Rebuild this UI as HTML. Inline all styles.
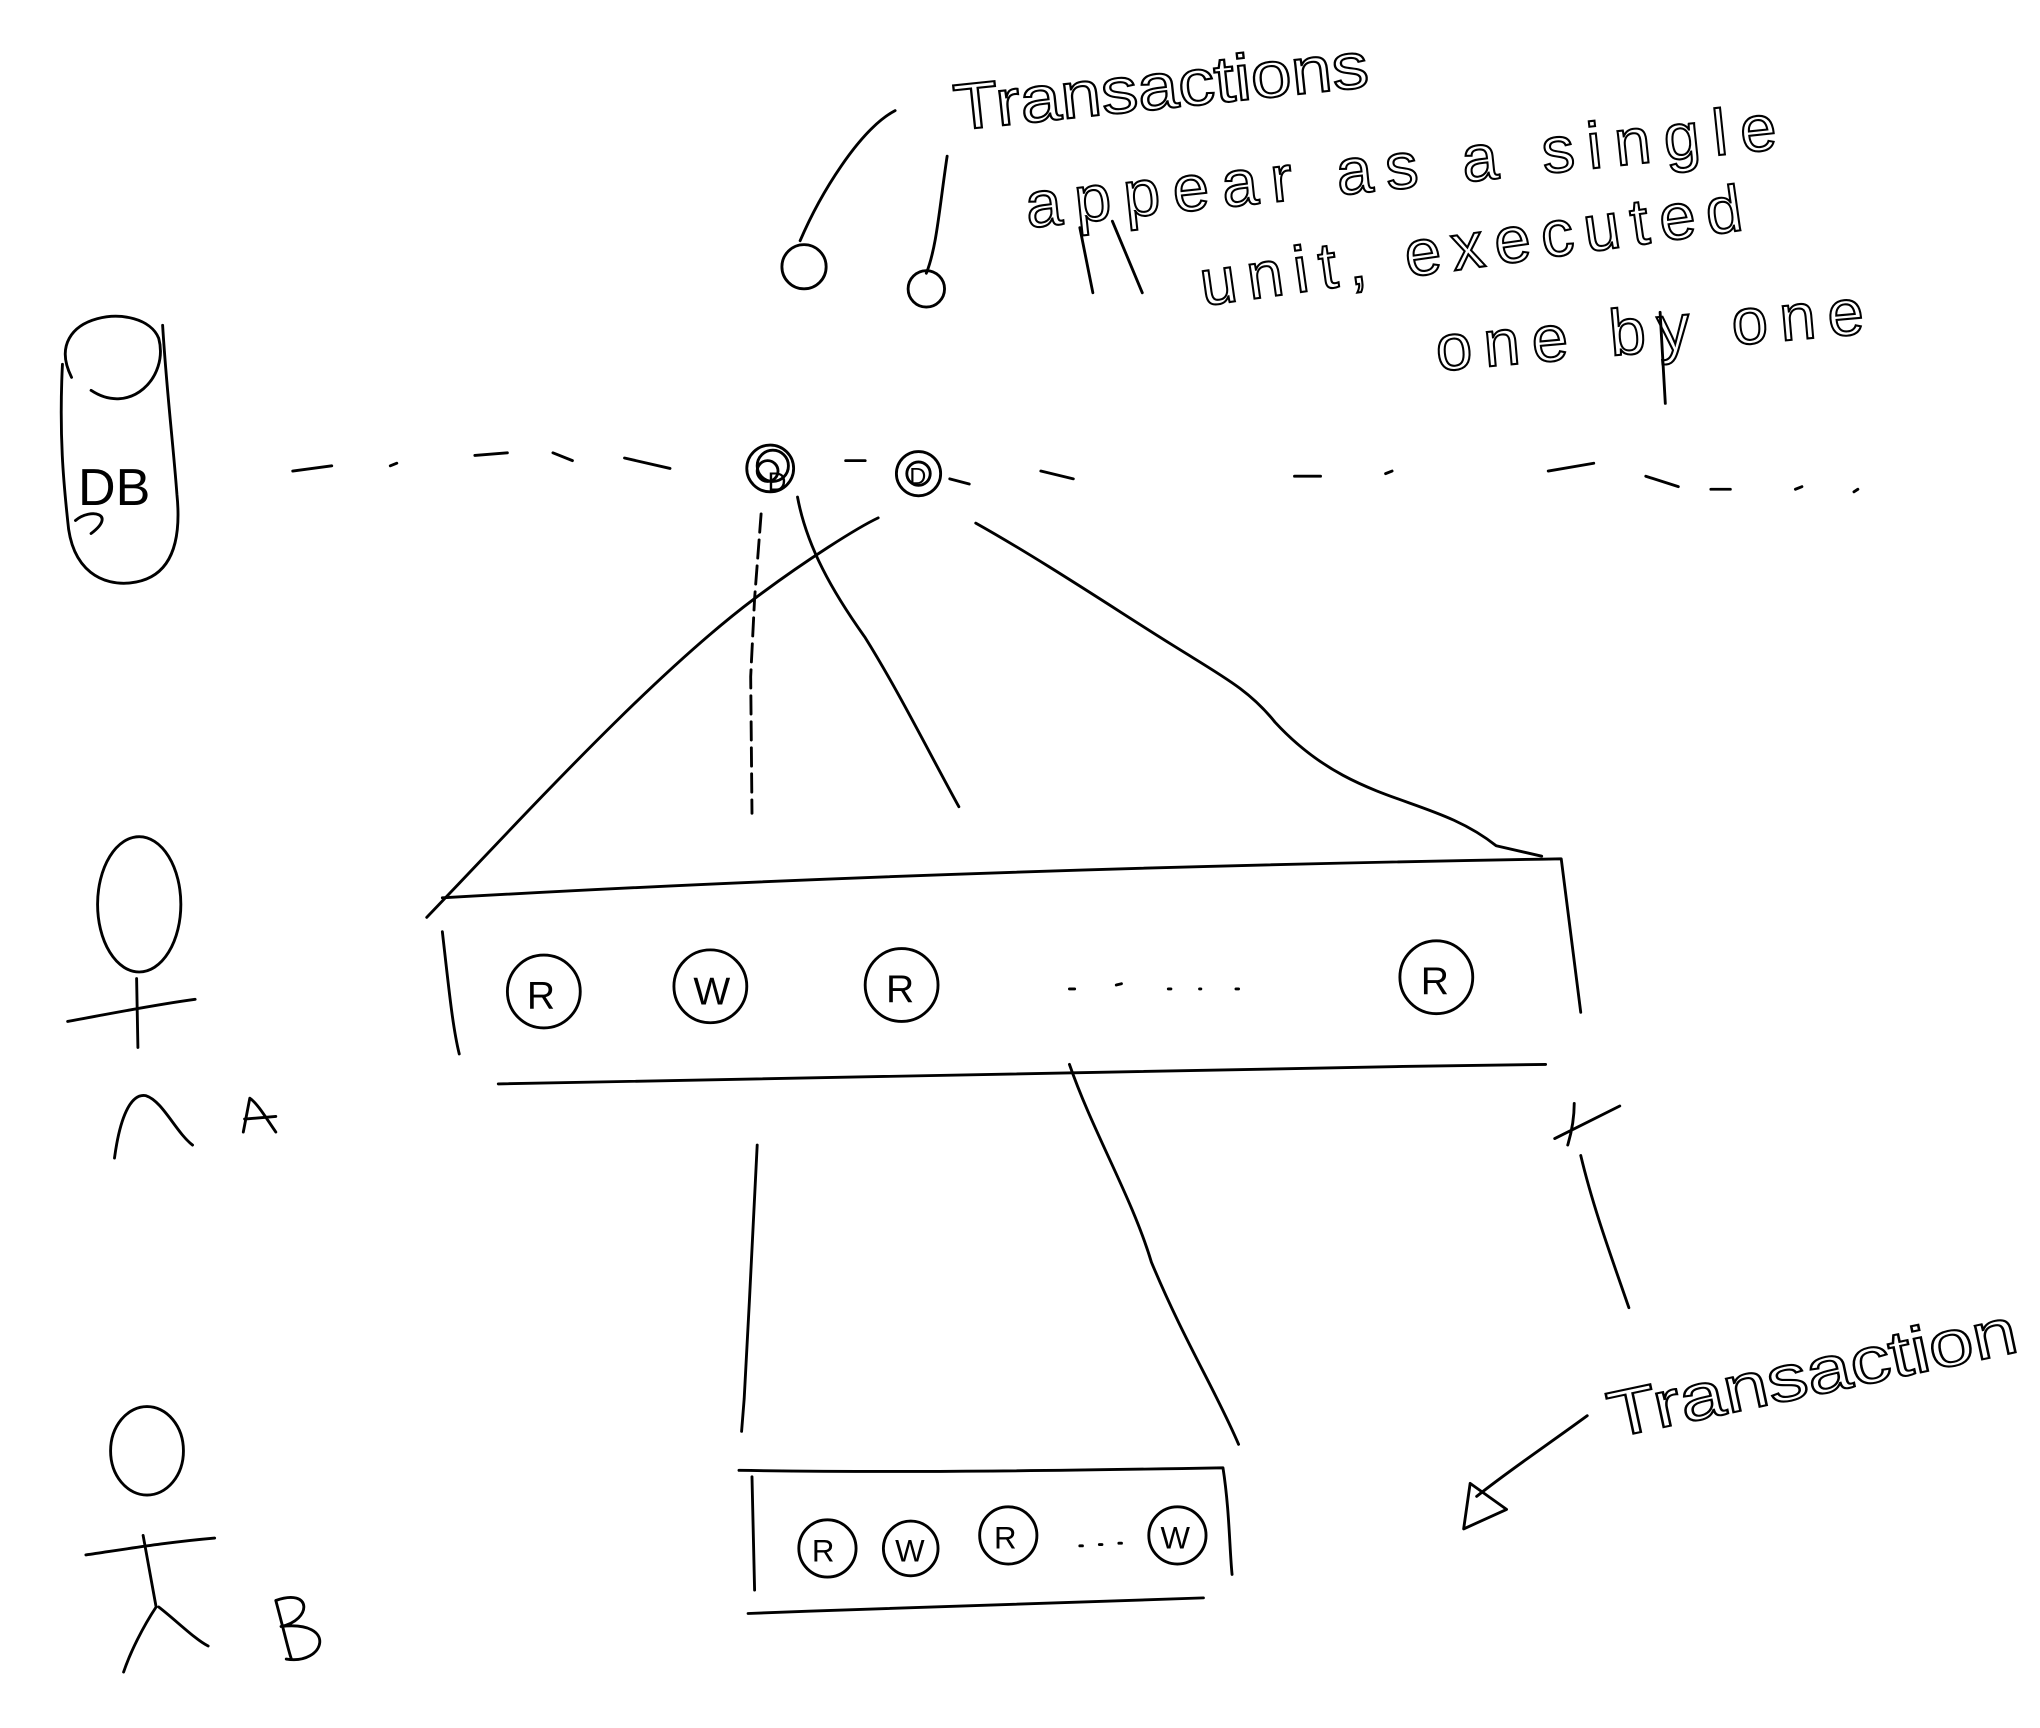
<!DOCTYPE html>
<html><head><meta charset="utf-8"><style>html,body{margin:0;padding:0;background:#fff}svg{display:block}</style></head>
<body>
<svg width="2040" height="1728" viewBox="0 0 1568 1328" preserveAspectRatio="none" xmlns="http://www.w3.org/2000/svg">
<rect width="1568" height="1328" fill="#fff"/>
<g fill="none" stroke="#000" stroke-width="2.2" stroke-linecap="round" stroke-linejoin="round">
<!-- DB cylinder -->
<path d="M55,290 C30,240 110,230 122,260 C130,290 100,320 70,300"/>
<path d="M48,280 C45,340 50,380 52,400 C55,440 80,450 100,448 C130,445 140,420 136,380 C133,340 128,300 125,250"/>
<path d="M58,400 C70,390 90,395 70,410"/>
<!-- dashed timeline -->
<path d="M225,362 L255,358 M300,358 L305,356 M365,350 L390,348 M425,348 L440,354 M480,352 L515,360 M650,354 L665,354 M730,368 L745,372 M800,362 L825,368 M995,366 L1015,366 M1065,364 L1070,362 M1190,362 L1225,356 M1265,366 L1290,374 M1315,376 L1330,376 M1380,376 L1385,374 M1425,378 L1428,376"/>
<!-- dots on line -->
<circle cx="592" cy="360" r="18"/><circle cx="594" cy="358" r="12"/><circle cx="590" cy="362" r="8"/>
<circle cx="706" cy="364" r="17"/><circle cx="706" cy="364" r="9"/>
<!-- top annotation marks -->
<path d="M688,85 C660,100 630,150 615,185"/>
<circle cx="618" cy="205" r="17"/>
<path d="M728,120 C722,160 720,190 712,210"/><circle cx="712" cy="222" r="14"/>
<path d="M830,175 L840,225 M855,170 L878,225"/>
<path d="M1276,240 L1280,310"/>
<!-- lines to top transaction -->
<path d="M328,705 C400,630 500,520 580,460 C620,430 660,405 675,398"/>
<path d="M585,395 L580,460 L577,520 L578,625" stroke-dasharray="14 6"/>
<path d="M613,382 C620,420 640,455 665,490 C690,530 715,580 737,620"/>
<path d="M750,402 C800,430 860,470 900,495 C940,520 960,530 980,555 C1040,620 1100,610 1150,650 L1185,658"/>
<!-- top transaction box -->
<path d="M340,690 C600,675 900,665 1200,660 C1205,700 1210,740 1215,778"/>
<path d="M340,716 C345,760 348,790 353,810"/>
<path d="M383,833 C600,828 900,822 1188,818"/>
<circle cx="418" cy="762" r="28"/><circle cx="546" cy="758" r="28"/><circle cx="693" cy="757" r="28"/><circle cx="1104" cy="751" r="28"/>
<path d="M822,760 L826,760 M858,757 L862,756 M898,760 L900,760 M922,760 L923,760 M950,760 L952,760"/>
<!-- person A -->
<ellipse cx="107" cy="695" rx="32" ry="52"/>
<path d="M52,785 C90,778 120,772 150,768 M105,752 L106,805 M88,890 C92,860 100,840 112,842 C125,846 135,870 148,880 M187,870 L192,844 C198,848 205,860 212,870 M188,860 L212,858"/>
<!-- lines down -->
<path d="M582,880 L576,1000 L572,1075 L570,1100"/>
<path d="M822,818 C840,870 870,920 885,970 C910,1030 935,1070 952,1110"/>
<!-- bottom transaction box -->
<path d="M568,1130 C700,1132 830,1130 940,1128 C945,1160 945,1190 947,1210"/>
<path d="M578,1135 L580,1222"/>
<path d="M575,1240 C700,1235 830,1232 925,1228"/>
<circle cx="636" cy="1190" r="22"/><circle cx="700" cy="1190" r="21"/><circle cx="775" cy="1180" r="22"/><circle cx="905" cy="1180" r="22"/>
<path d="M830,1188 L832,1188 M845,1187 L847,1187 M860,1186 L862,1186"/>
<!-- person B -->
<ellipse cx="113" cy="1115" rx="28" ry="34"/>
<path d="M66,1195 C100,1190 130,1185 165,1182 M110,1180 L120,1235 C110,1250 100,1270 95,1285 M122,1235 C135,1245 150,1260 160,1265"/>
<path d="M212,1230 C220,1260 222,1270 224,1275 M212,1230 C240,1220 240,1245 216,1250 C260,1245 250,1280 220,1275"/>
<!-- Transaction annotation -->
<path d="M1210,848 C1210,860 1208,870 1205,880 M1195,875 L1245,850 M1215,888 C1225,930 1240,970 1252,1005"/>
<path d="M1220,1088 C1190,1110 1160,1130 1135,1150"/>
<path d="M1130,1140 L1125,1175 L1158,1160 Z"/>
</g>
<g font-family="Liberation Sans, sans-serif" font-size="30" fill="#000">
<text x="590" y="377" font-size="20">D</text><text x="699" y="372" font-size="18">D</text>
<text x="60" y="388" font-size="40">DB</text>
<text x="405" y="775" font-size="30">R</text><text x="533" y="772" font-size="30">W</text><text x="681" y="770" font-size="30">R</text><text x="1092" y="764" font-size="30">R</text>
<text x="624" y="1200" font-size="24">R</text><text x="688" y="1200" font-size="24">W</text><text x="764" y="1190" font-size="24">R</text><text x="892" y="1190" font-size="24">W</text>
</g>
<g font-family="Liberation Sans, sans-serif" font-size="50" fill="none" stroke="#000" stroke-width="1.6">
<text x="735" y="100" transform="rotate(-6 735 100)" textLength="320" lengthAdjust="spacingAndGlyphs">Transactions</text>
<text x="790" y="175" transform="rotate(-6 790 175)" textLength="580" lengthAdjust="spacing">appear as a single</text>
<text x="925" y="235" transform="rotate(-8 925 235)" textLength="420" lengthAdjust="spacing">unit, executed</text>
<text x="1105" y="285" transform="rotate(-5 1105 285)" textLength="330" lengthAdjust="spacing">one by one</text>
<text x="1240" y="1105" transform="rotate(-12 1240 1105)" textLength="320" lengthAdjust="spacingAndGlyphs">Transaction</text>
</g>
</svg>
</body></html>
